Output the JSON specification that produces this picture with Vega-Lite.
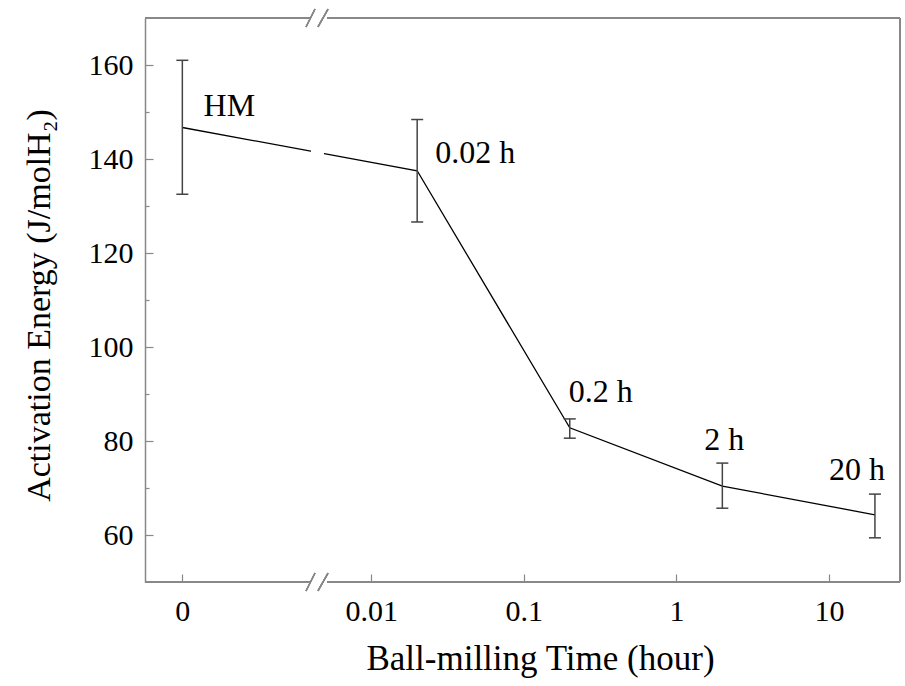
{
  "$schema": "https://vega.github.io/schema/vega-lite/v6.json",
  "width": 755,
  "height": 564,
  "autosize": {"type": "none"},
  "padding": {"left": 145, "top": 18, "right": 5, "bottom": 104},
  "background": "white",
  "config": {
    "view": {"stroke": null},
    "font": "Liberation Serif",
    "axis": {"labelFont": "Liberation Serif", "titleFont": "Liberation Serif", "labelColor": "black", "titleColor": "black", "titleFontWeight": "normal", "grid": false}
  },
  "data": {"values": [
    {"t": 0.000578, "label": "HM", "E": 146.7, "lo": 132.5, "hi": 161.0},
    {"t": 0.02, "label": "0.02 h", "E": 137.5, "lo": 126.6, "hi": 148.4},
    {"t": 0.2, "label": "0.2 h", "E": 82.8, "lo": 80.6, "hi": 84.7},
    {"t": 2, "label": "2 h", "E": 70.4, "lo": 65.7, "hi": 75.3},
    {"t": 20, "label": "20 h", "E": 64.3, "lo": 59.4, "hi": 68.7}
  ]},
  "resolve": {"axis": {"y": "independent"}},
  "layer": [
    {
      "mark": {"type": "line", "color": "black", "strokeWidth": 1.3},
      "encoding": {
        "x": {"field": "t", "type": "quantitative",
          "scale": {"type": "log", "domain": [0.000329, 29.2], "nice": false},
          "axis": {"values": [0.000578, 0.01, 0.1, 1, 10], "labelExpr": "datum.value < 0.001 ? '0' : format(datum.value, '~g')",
            "tickSize": -8, "tickColor": "#888", "tickWidth": 1.2, "domain": false, "labelFontSize": 30, "labelPadding": 22,
            "labelFlush": false, "labelOverlap": false, "title": "Ball-milling Time (hour)", "titleFontSize": 35, "titlePadding": 15, "titleX": 395}},
        "y": {"field": "E", "type": "quantitative",
          "scale": {"domain": [50, 170], "nice": false, "zero": false},
          "axis": {"values": [60, 80, 100, 120, 140, 160], "orient": "left", "tickSize": -8, "tickColor": "#888", "tickWidth": 1.2,
            "domainColor": "#888", "domainWidth": 1.5, "labelFontSize": 30, "labelPadding": 20,
            "title": "Activation Energy (J/molH₂)", "titleFontSize": 34, "titlePadding": 32, "titleY": 287}}
      }
    },
    {
      "mark": {"type": "rect", "fill": "white"},
      "encoding": {
        "x": {"datum": 0.00405, "type": "quantitative"},
        "x2": {"datum": 0.0049},
        "y": {"datum": 139.5, "type": "quantitative", "axis": null},
        "y2": {"datum": 144.5}
      }
    },
    {
      "mark": {"type": "rule", "color": "#444", "strokeWidth": 1.5},
      "encoding": {
        "x": {"field": "t", "type": "quantitative"},
        "y": {"field": "lo", "type": "quantitative",
          "axis": {"orient": "left", "values": [70, 90, 110, 130, 150], "tickSize": -4, "tickColor": "#888", "tickWidth": 1.2, "labels": false, "domain": false, "title": null}},
        "y2": {"field": "hi"}
      }
    },
    {
      "mark": {"type": "tick", "orient": "horizontal", "size": 12, "thickness": 1.5, "color": "#444", "opacity": 1},
      "encoding": {
        "x": {"field": "t", "type": "quantitative"},
        "y": {"field": "lo", "type": "quantitative", "axis": null}
      }
    },
    {
      "mark": {"type": "tick", "orient": "horizontal", "size": 12, "thickness": 1.5, "color": "#444", "opacity": 1},
      "encoding": {
        "x": {"field": "t", "type": "quantitative"},
        "y": {"field": "hi", "type": "quantitative", "axis": null}
      }
    },
    {
      "transform": [{"filter": "datum.label == 'HM'"}],
      "mark": {"type": "text", "fontSize": 32, "font": "Liberation Serif", "align": "center", "baseline": "alphabetic", "dx": 47, "dy": -12, "color": "black"},
      "encoding": {"x": {"field": "t", "type": "quantitative"}, "y": {"field": "E", "type": "quantitative", "axis": null}, "text": {"field": "label"}}
    },
    {
      "transform": [{"filter": "datum.label == '0.02 h'"}],
      "mark": {"type": "text", "fontSize": 32, "font": "Liberation Serif", "align": "center", "baseline": "alphabetic", "dx": 58, "dy": -8, "color": "black"},
      "encoding": {"x": {"field": "t", "type": "quantitative"}, "y": {"field": "E", "type": "quantitative", "axis": null}, "text": {"field": "label"}}
    },
    {
      "transform": [{"filter": "datum.label == '0.2 h'"}],
      "mark": {"type": "text", "fontSize": 32, "font": "Liberation Serif", "align": "center", "baseline": "alphabetic", "dx": 31, "dy": -26, "color": "black"},
      "encoding": {"x": {"field": "t", "type": "quantitative"}, "y": {"field": "E", "type": "quantitative", "axis": null}, "text": {"field": "label"}}
    },
    {
      "transform": [{"filter": "datum.label == '2 h'"}],
      "mark": {"type": "text", "fontSize": 32, "font": "Liberation Serif", "align": "center", "baseline": "alphabetic", "dx": 2, "dy": -36, "color": "black"},
      "encoding": {"x": {"field": "t", "type": "quantitative"}, "y": {"field": "E", "type": "quantitative", "axis": null}, "text": {"field": "label"}}
    },
    {
      "transform": [{"filter": "datum.label == '20 h'"}],
      "mark": {"type": "text", "fontSize": 32, "font": "Liberation Serif", "align": "center", "baseline": "alphabetic", "dx": -18, "dy": -35, "color": "black"},
      "encoding": {"x": {"field": "t", "type": "quantitative"}, "y": {"field": "E", "type": "quantitative", "axis": null}, "text": {"field": "label"}}
    },
    {
      "mark": {"type": "rule", "color": "#888", "strokeWidth": 1.5},
      "encoding": {"x": {"datum": 0.000329, "type": "quantitative"}, "x2": {"datum": 0.00403}, "y": {"datum": 170, "type": "quantitative", "axis": null}}
    },
    {
      "mark": {"type": "rule", "color": "#888", "strokeWidth": 1.5},
      "encoding": {"x": {"datum": 0.00513, "type": "quantitative"}, "x2": {"datum": 29.2}, "y": {"datum": 170, "type": "quantitative", "axis": null}}
    },
    {
      "mark": {"type": "rule", "color": "#888", "strokeWidth": 1.5},
      "encoding": {"x": {"datum": 0.000329, "type": "quantitative"}, "x2": {"datum": 0.00403}, "y": {"datum": 50, "type": "quantitative", "axis": null}}
    },
    {
      "mark": {"type": "rule", "color": "#888", "strokeWidth": 1.5},
      "encoding": {"x": {"datum": 0.00513, "type": "quantitative"}, "x2": {"datum": 29.2}, "y": {"datum": 50, "type": "quantitative", "axis": null}}
    },
    {
      "mark": {"type": "rule", "color": "#888", "strokeWidth": 1.5},
      "encoding": {"x": {"datum": 29.2, "type": "quantitative"}, "y": {"datum": 50, "type": "quantitative", "axis": null}, "y2": {"datum": 170}}
    },
    {
      "mark": {"type": "rule", "color": "#888", "strokeWidth": 1.3},
      "encoding": {"x": {"datum": 0.003736, "type": "quantitative"}, "x2": {"datum": 0.00428}, "y": {"datum": 168.1, "type": "quantitative", "axis": null}, "y2": {"datum": 171.9}}
    },
    {
      "mark": {"type": "rule", "color": "#888", "strokeWidth": 1.3},
      "encoding": {"x": {"datum": 0.004477, "type": "quantitative"}, "x2": {"datum": 0.005207}, "y": {"datum": 168.1, "type": "quantitative", "axis": null}, "y2": {"datum": 171.9}}
    },
    {
      "mark": {"type": "rule", "color": "#888", "strokeWidth": 1.3},
      "encoding": {"x": {"datum": 0.003736, "type": "quantitative"}, "x2": {"datum": 0.00428}, "y": {"datum": 48.1, "type": "quantitative", "axis": null}, "y2": {"datum": 51.9}}
    },
    {
      "mark": {"type": "rule", "color": "#888", "strokeWidth": 1.3},
      "encoding": {"x": {"datum": 0.004477, "type": "quantitative"}, "x2": {"datum": 0.005207}, "y": {"datum": 48.1, "type": "quantitative", "axis": null}, "y2": {"datum": 51.9}}
    }
  ]
}
